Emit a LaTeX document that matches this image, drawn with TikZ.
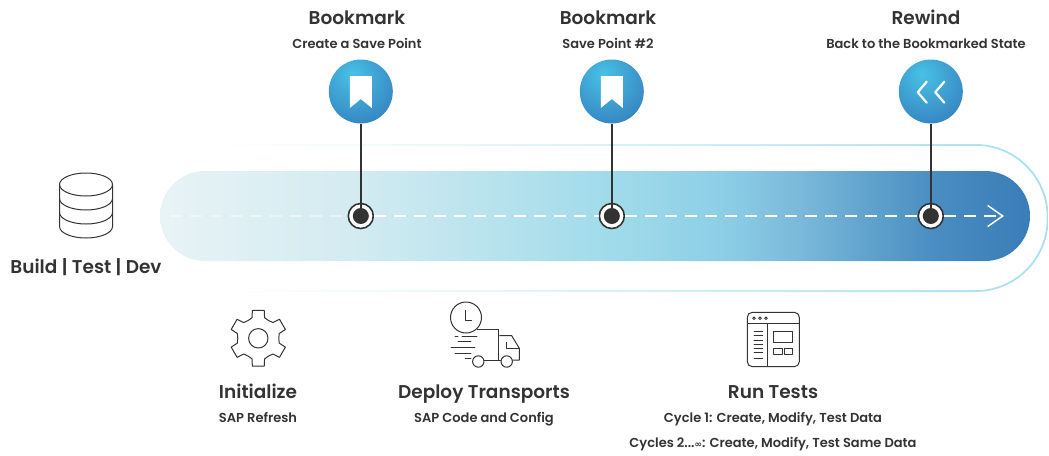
\documentclass[tikz,border=0pt]{standalone}
\usepackage{fontspec}
\setmainfont{Poppins}[BoldFont={Poppins SemiBold}]
\newfontfamily\symfont{DejaVu Sans}
\usetikzlibrary{arrows.meta}
\definecolor{ink}{HTML}{333333}
\definecolor{trk0}{HTML}{E8F3F5}
\definecolor{trk1}{HTML}{D2EBF1}
\definecolor{trk2}{HTML}{A0DBEA}
\definecolor{trk3}{HTML}{8DCFE6}
\definecolor{trk4}{HTML}{7AB9DA}
\definecolor{trk5}{HTML}{4A8EC2}
\definecolor{trk6}{HTML}{3A7CB8}
\definecolor{ring0}{HTML}{FEFFFF}
\definecolor{ring1}{HTML}{E6F6FA}
\definecolor{ring2}{HTML}{A8E0F0}
\definecolor{pin0}{HTML}{48C2E6}
\definecolor{pin1}{HTML}{3580BE}
\pgfdeclarehorizontalshading{trackshade}{100bp}{color(0bp)=(trk0); color(25bp)=(trk0); color(36.5bp)=(trk1); color(50.9bp)=(trk2); color(57.2bp)=(trk3); color(61.8bp)=(trk4); color(69.3bp)=(trk5); color(75bp)=(trk6); color(100bp)=(trk6)}
\pgfdeclarehorizontalshading{ringshade}{100bp}{color(0bp)=(ring0); color(30bp)=(ring0); color(45bp)=(ring1); color(75bp)=(ring2); color(100bp)=(ring2)}
\pgfdeclareradialshading{pinshade}{\pgfpoint{-7bp}{14bp}}{color(0bp)=(pin0); color(39bp)=(pin1); color(100bp)=(pin1)}
\tikzset{
  x=1pt, y=-1pt,
  titletxt/.style = {anchor=base, inner sep=0pt, text=ink, font=\fontsize{18.5}{22}\selectfont\bfseries},
  subtxt/.style = {anchor=base, inner sep=0pt, text=ink, font=\fontsize{13}{16}\selectfont\bfseries},
  trackbar/.style = {shade, shading=trackshade, rounded corners=45pt, inner sep=0pt, minimum width=870pt, minimum height=90pt},
  pinball/.style = {circle, shade, shading=pinshade, inner sep=0pt, minimum size=64pt},
  markring/.style = {circle, fill=white, draw=ink, line width=1.6pt, inner sep=0pt, minimum size=25pt},
  markdot/.style = {circle, fill=ink, inner sep=0pt, minimum size=16pt},
  stemline/.style = {draw=ink, line width=2.2pt},
  flowline/.style = {draw=white, line width=1.5pt, dash pattern=on 12pt off 8pt},
  flowtip/.style = {-{Straight Barb[length=15pt,width=21pt,line width=1.5pt]}},
  glyphline/.style = {draw=white, line width=2.2pt, line cap=round, line join=round},
  iconline/.style = {draw=ink, line width=1pt, line join=round},
  iconthin/.style = {draw=ink, line width=.8pt, line cap=round}
}
\begin{document}
\begin{tikzpicture}
\useasboundingbox (0,0) rectangle (1049,455);
% band around the track
\shade[even odd rule, shading=ringshade]
	[rounded corners=73pt] (128,144) rectangle (1048.5,292)
	[rounded corners=71.2pt] (129.8,145.8) rectangle (1046.7,290.2);
\node [trackbar] (band) at (595,216) {};
\coordinate (flowstart) at (170,216);
\coordinate (flowend) at (1004,216);
% the three save points
\foreach \nm/\px in {one/360.8,two/611.8,three/930.8}{
	\node [markring] (mark\nm) at (\px,216) {};
}
\draw [flowline, draw opacity=.4] (flowstart) -- (markone);
\draw [flowline] (markone) -- (marktwo);
\draw [flowline] (marktwo) -- (markthree);
\draw [flowline, flowtip] (markthree) -- (flowend);
\foreach \nm/\px in {one/360.8,two/611.8,three/930.8}{
	\node [pinball] (pin\nm) at (\px,91.5) {};
	\node [markdot] (dot\nm) at (\px,216) {};
	\draw [stemline] (pin\nm) -- (dot\nm);
}
\foreach \px in {360.8,611.8}{
	\fill [white, shift={(\px,0)}] (-11,76) -- (11,76) -- (11,108) -- (0,99) -- (-11,108) -- cycle;
}
\draw [glyphline] (926.7,81.7) -- (917.7,92.3) -- (926.7,102.7);
\draw [glyphline] (944.3,81.7) -- (935.3,92.3) -- (944.3,102.7);
% labels on top
\node [titletxt] (booktitleA) at (357,24.5) {Bookmark};
\node [subtxt] (booksubA) at (357,48.5) {Create a Save Point};
\node [titletxt] (booktitleB) at (608,24.5) {Bookmark};
\node [subtxt] (booksubB) at (608,48.5) {Save Point \#2};
\node [titletxt] (rewindtitle) at (926,24.5) {Rewind};
\node [subtxt] (rewindsub) at (926,48.5) {Back to the Bookmarked State};
% database
\draw [iconline] (86,184.5) ellipse [x radius=26.5, y radius=11.5];
\draw [iconline] (59.5,184.5) -- (59.5,226.5) arc [start angle=180, end angle=0, x radius=26.5, y radius=11.5] -- (112.5,184.5);
\draw [iconline] (59.5,198.5) arc [start angle=180, end angle=0, x radius=26.5, y radius=11.5];
\draw [iconline] (59.5,212.5) arc [start angle=180, end angle=0, x radius=26.5, y radius=11.5];
\node [titletxt] (buildtitle) at (86,273.5) {Build | Test | Dev};
% gear
\draw [iconline, shift={(258.3,338.3)}] (73:21.5)
	\foreach \a in {90,150,210,270,330,30}{
		-- (\a-17:21.5) -- (\a-12:28.5) -- (\a+12:28.5) -- (\a+17:21.5) -- (\a+30:20.5)
	} -- cycle;
\draw [iconline] (258.3,338.3) circle (9.7);
\node [titletxt] (inittitle) at (258,398.5) {Initialize};
\node [subtxt] (initsub) at (258,422.5) {SAP Refresh};
% truck
\draw [iconline] (466,317.5) circle (15.5);
\draw [iconline] (465.7,310) -- (465.7,320.7) -- (471.7,320.7);
\draw [iconline] (476.7,329) -- (498.3,329) -- (498.3,360.5);
\draw [iconline] (499.3,335.7) -- (511.7,335.7) -- (519.3,348.3) -- (519.3,360) -- (512.7,360);
\draw [iconline] (506,342) -- (506,348.3) -- (519.3,348.3);
\draw [iconline] (478.3,361.5) circle (5.7);
\draw [iconline] (506.7,361.5) circle (5.7);
\draw [iconline] (484,360.5) -- (501,360.5);
\draw [iconthin] (455,336) -- (458,336) (462,336) -- (477,336);
\draw [iconthin] (458,341.7) -- (471,341.7);
\draw [iconthin] (451,347.3) -- (475,347.3);
\draw [iconthin] (455,353) -- (471,353);
\draw [iconthin] (465,358.5) -- (471,358.5);
\node [titletxt] (deploytitle) at (484,398.5) {Deploy Transports};
\node [subtxt] (deploysub) at (484,422.5) {SAP Code and Config};
% test window
\draw [iconline, rounded corners=5pt] (747.3,312.3) rectangle (799.3,366.7);
\draw [iconline] (747.3,323.3) -- (799.3,323.3);
\draw [iconline] (767.7,323.3) -- (767.7,366.7);
\foreach \dx in {754,760,766}{
	\draw [iconthin] (\dx,318.3) circle (1.3);
}
\foreach \ly in {331.7,335.7,340,344.3,348.7,352.7,358}{
	\draw [iconthin] (754,\ly) -- (762.7,\ly);
}
\draw [iconline] (773.3,331.3) rectangle (792.7,342.7);
\draw [iconline] (773.3,348.3) rectangle (782,354.3);
\draw [iconline] (784.3,348.3) rectangle (792.7,354.3);
\node [titletxt] (runtitle) at (773,398.5) {Run Tests};
\node [subtxt] (runsubA) at (773,422.5) {Cycle 1: Create, Modify, Test Data};
\node [subtxt] (runsubB) at (773,447) {Cycles 2...{\symfont\fontsize{9}{12}\selectfont ∞}: Create, Modify, Test Same Data};
\end{tikzpicture}
\end{document}
